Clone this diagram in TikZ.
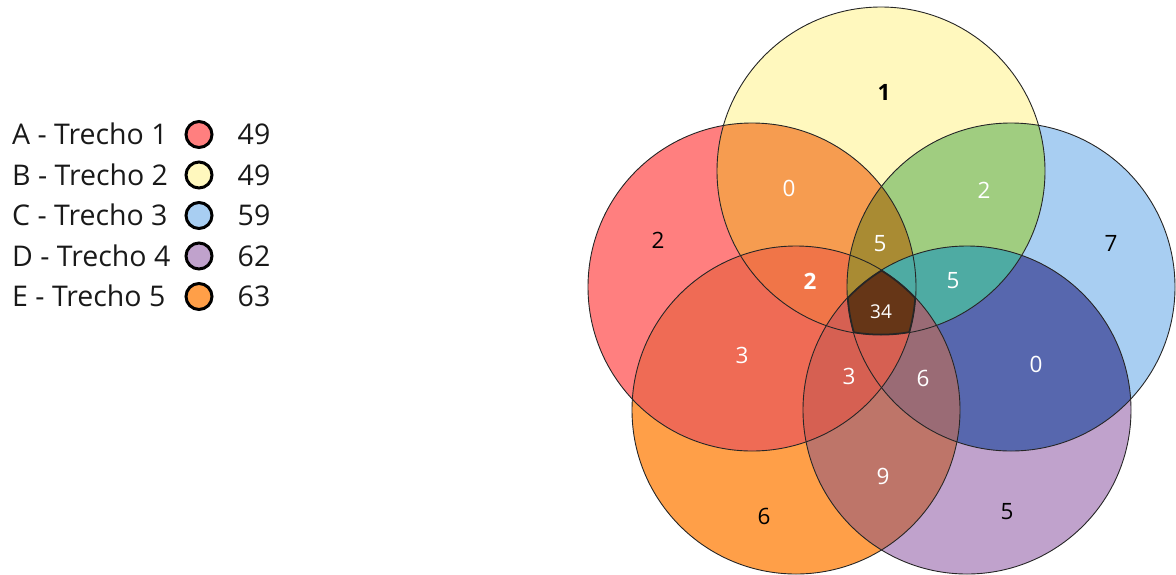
\documentclass[tikz,border=0pt]{standalone}
\usepackage{fontspec}
\setmainfont{Open Sans}
\definecolor{colA}{HTML}{FF7F7F}
\definecolor{colB}{HTML}{FFF8BE}
\definecolor{colC}{HTML}{A8CEF2}
\definecolor{colD}{HTML}{C0A2CC}
\definecolor{colE}{HTML}{FF9F48}
\definecolor{colAB}{HTML}{F69C50}
\definecolor{colBC}{HTML}{A0CD80}
\definecolor{colCD}{HTML}{5767AE}
\definecolor{colDE}{HTML}{BE7569}
\definecolor{colEA}{HTML}{EF6B55}
\definecolor{colEAB}{HTML}{F07548}
\definecolor{colABC}{HTML}{A98B33}
\definecolor{colBCD}{HTML}{4EABA3}
\definecolor{colCDE}{HTML}{9A6B75}
\definecolor{colDEA}{HTML}{D66052}
\definecolor{colALL}{HTML}{663617}
\tikzset{
  legtext/.style={anchor=base west, font=\fontsize{28.5}{34}\selectfont, text=black!90, inner sep=0pt},
  legnum/.style={anchor=base, font=\fontsize{28.5}{34}\selectfont, text=black!90, inner sep=0pt},
  legdot/.style={circle, draw=black, line width=3pt, minimum size=26pt, inner sep=0pt},
  lab/.style={font=\fontsize{22.5}{27}\selectfont, text=white, inner sep=0pt},
  labk/.style={lab, text=black},
  ring/.style={draw=black!85, line width=0.9pt},
}
\begin{document}
\begin{tikzpicture}[x=1pt,y=-1pt]
\useasboundingbox (0,0) rectangle (1176,574);
\def\circA{(752,287) circle [radius=164pt]}
\def\circB{(881,171) circle [radius=164pt]}
\def\circC{(1011,287) circle [radius=164pt]}
\def\circD{(967,410) circle [radius=164pt]}
\def\circE{(796,410) circle [radius=164pt]}
% single sets
\fill[colA] \circA;
\fill[colB] \circB;
\fill[colC] \circC;
\fill[colD] \circD;
\fill[colE] \circE;
% pairs
\begin{scope}\clip \circA; \fill[colAB] \circB; \end{scope}
\begin{scope}\clip \circB; \fill[colBC] \circC; \end{scope}
\begin{scope}\clip \circC; \fill[colCD] \circD; \end{scope}
\begin{scope}\clip \circD; \fill[colDE] \circE; \end{scope}
\begin{scope}\clip \circE; \fill[colEA] \circA; \end{scope}
% triples
\begin{scope}\clip \circE; \clip \circA; \fill[colEAB] \circB; \end{scope}
\begin{scope}\clip \circA; \clip \circB; \fill[colABC] \circC; \end{scope}
\begin{scope}\clip \circB; \clip \circC; \fill[colBCD] \circD; \end{scope}
\begin{scope}\clip \circC; \clip \circD; \fill[colCDE] \circE; \end{scope}
\begin{scope}\clip \circD; \clip \circE; \fill[colDEA] \circA; \end{scope}
% all five
\begin{scope}\clip \circA; \clip \circB; \clip \circC; \clip \circD; \fill[colALL] \circE; \end{scope}
% outlines
\draw[ring] \circA;
\draw[ring] \circB;
\draw[ring] \circC;
\draw[ring] \circD;
\draw[ring] \circE;
\begin{scope}\clip \circA; \clip \circB; \clip \circC; \clip \circD; \clip \circE;
  \draw[black!85, line width=2.6pt] \circA;
  \draw[black!85, line width=2.6pt] \circB;
  \draw[black!85, line width=2.6pt] \circC;
  \draw[black!85, line width=2.6pt] \circD;
  \draw[black!85, line width=2.6pt] \circE;
\end{scope}
% region labels
\node[labk, font=\fontsize{22.5}{27}\selectfont\bfseries] (nB) at (884,92) {1};
\node[labk] (nA) at (658,240) {2};
\node[labk] (nC) at (1111,243) {7};
\node[labk] (nD) at (1007,512) {5};
\node[labk] (nE) at (764,516) {6};
\node[lab] (nAB) at (789,188) {0};
\node[lab] (nBC) at (984,190) {2};
\node[lab] (nCD) at (1036,364) {0};
\node[lab] (nDE) at (883,476) {9};
\node[lab] (nEA) at (742,355) {3};
\node[lab, font=\fontsize{22.5}{27}\selectfont\bfseries] (nEAB) at (810,281) {2};
\node[lab] (nABC) at (880,244) {5};
\node[lab] (nBCD) at (953,281) {5};
\node[lab] (nCDE) at (923,378) {6};
\node[lab] (nDEA) at (849,376) {3};
\node[lab, font=\fontsize{19}{23}\selectfont] (nALL) at (881,312) {34};
% legend
\node[legtext] (tA) at (12,144.5) {A - Trecho 1};
\node[legtext] (tB) at (12,185) {B - Trecho 2};
\node[legtext] (tC) at (12,225.5) {C - Trecho 3};
\node[legtext] (tD) at (12,266) {D - Trecho 4};
\node[legtext] (tE) at (12,306.5) {E - Trecho 5};
\node[legdot, fill=colA] (dA) at (199,134.5) {};
\node[legdot, fill=colB] (dB) at (199,175) {};
\node[legdot, fill=colC] (dC) at (199,215.5) {};
\node[legdot, fill=colD] (dD) at (199,256) {};
\node[legdot, fill=colE] (dE) at (199,296.5) {};
\node[legnum] (vA) at (254,144.5) {49};
\node[legnum] (vB) at (254,185) {49};
\node[legnum] (vC) at (254,225.5) {59};
\node[legnum] (vD) at (254,266) {62};
\node[legnum] (vE) at (254,306.5) {63};
\end{tikzpicture}
\end{document}
